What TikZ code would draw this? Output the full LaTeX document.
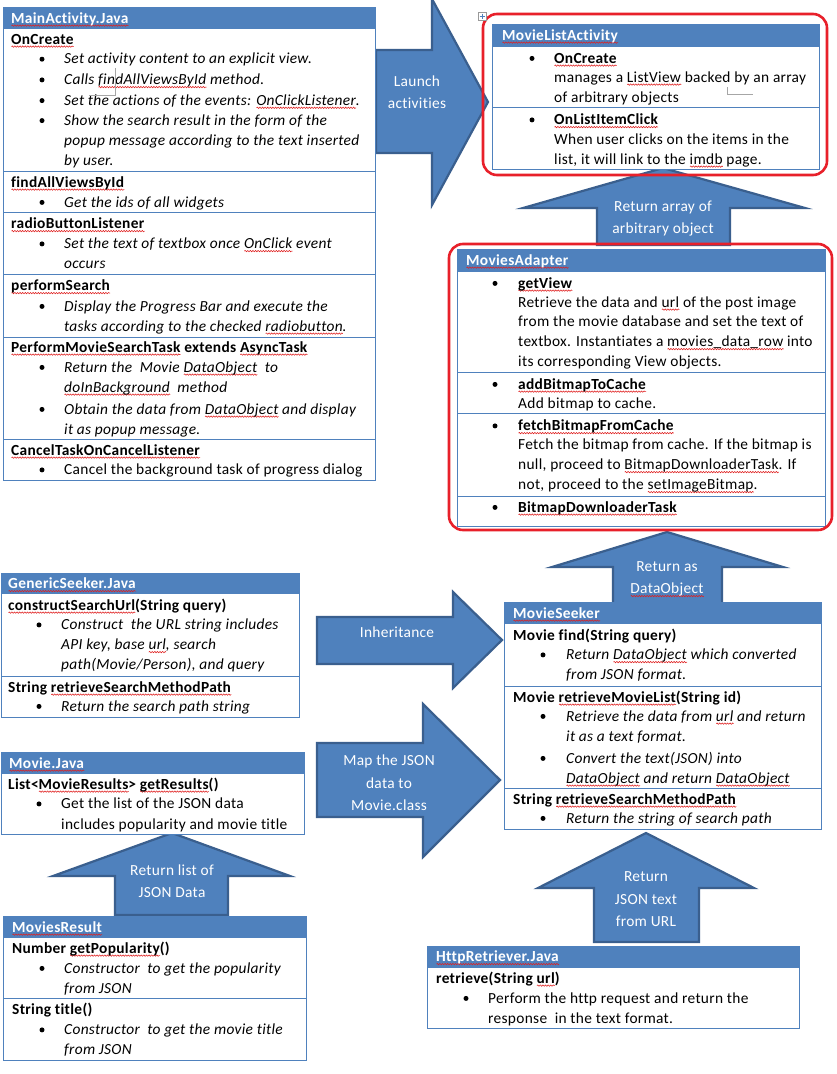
\documentclass[tikz,border=0pt]{standalone}
\usepackage{fontspec}
\setmainfont{Carlito}[LetterSpace=2,Ligatures=NoCommon]
\usepackage{xcolor}
\usetikzlibrary{decorations.pathmorphing}
\definecolor{hblue}{HTML}{4F81BD}
\definecolor{adark}{HTML}{3A5F8E}
\definecolor{redc}{HTML}{E8202A}
\definecolor{wavec}{HTML}{E02020}
\newsavebox\wbox
\newcommand\wavy[1]{\sbox\wbox{#1}\leavevmode\rlap{\smash{\tikz[x=1pt,y=1pt,baseline=0pt]\draw[wavec,line width=0.55pt,decorate,decoration={snake,amplitude=0.7pt,segment length=2.6pt}] (0pt,-2.6pt) -- (\wd\wbox,-2.6pt);}}\usebox\wbox}
\newcommand\fsz{\fontsize{15.4}{17}\selectfont}
\newcounter{tn}
\newcommand\putT[4][txt]{\stepcounter{tn}\node[#1] (n\thetn) at (#2,#3) {#4};}
\newcommand\putB[2]{\fill[black] (#1,{#2-4.6}) circle (2.5pt);}
\tikzset{
  txt/.style={anchor=base west, inner sep=0pt, font=\fsz, text=black},
  itxt/.style={txt, font=\fsz\itshape},
  btxt/.style={txt, font=\fsz\bfseries},
  htxt/.style={txt, font=\fsz\bfseries, text=white},
  atxt/.style={anchor=base, inner sep=0pt, font=\fsz, text=white},
  hdr/.style={fill=hblue, draw=hblue, line width=1pt},
  sec/.style={draw=hblue, line width=1pt, fill=white},
  barrow/.style={fill=hblue, draw=adark, line width=2.2pt, line join=miter},
  redframe/.style={draw=redc, line width=2.6pt, rounded corners=14pt},
  artf/.style={draw=black!35, line width=0.8pt},
}
\begin{document}
\begin{tikzpicture}[x=1pt,y=-1pt]
\useasboundingbox[fill=white] (0,0) rectangle (836,1074);

% ---------- block arrows ----------
\filldraw[barrow] (376,50) -- (432,50) -- (432,-1) -- (488,102) -- (432,205) -- (432,153) -- (376,153) -- cycle;
\filldraw[barrow] (663,168) -- (805,208) -- (730,208) -- (730,245) -- (597,245) -- (597,208) -- (523,208) -- cycle;
\filldraw[barrow] (667,532) -- (783,567) -- (722,567) -- (722,604) -- (613,604) -- (613,567) -- (552,567) -- cycle;
\filldraw[barrow] (317,617) -- (453,617) -- (453,592) -- (502,640) -- (453,688) -- (453,664) -- (317,664) -- cycle;
\filldraw[barrow] (317,743) -- (423,743) -- (423,704) -- (500,780) -- (423,857) -- (423,817) -- (317,817) -- cycle;
\filldraw[barrow] (172,833) -- (290,876) -- (228,876) -- (228,915) -- (115,915) -- (115,876) -- (53,876) -- cycle;
\filldraw[barrow] (646,833) -- (754,888) -- (699,888) -- (699,942) -- (594,942) -- (594,888) -- (538,888) -- cycle;

% arrow labels
\putT[atxt]{417}{86}{Launch}
\putT[atxt]{417}{108.5}{activities}
\putT[atxt]{663}{211}{Return array of}
\putT[atxt]{663}{233}{arbitrary object}
\putT[atxt]{667}{571.5}{Return as}
\putT[atxt]{667}{593.5}{\wavy{DataObject}}
\putT[atxt]{397}{637.5}{Inheritance}
\putT[atxt]{389}{765.5}{Map the JSON}
\putT[atxt]{389}{788.5}{data to}
\putT[atxt]{389}{810.5}{Movie.class}
\putT[atxt]{172}{875.5}{Return list of}
\putT[atxt]{172}{897.5}{JSON Data}
\putT[atxt]{646}{881.5}{Return}
\putT[atxt]{646}{904.5}{JSON text}
\putT[atxt]{646}{926.5}{from URL}

% ---------- MainActivity.Java ----------
\draw[hdr] (3,7) rectangle (375,28);
\draw[sec] (3,28) rectangle (375,171);
\draw[sec] (3,171) rectangle (375,212);
\draw[sec] (3,212) rectangle (375,274);
\draw[sec] (3,274) rectangle (375,337);
\draw[sec] (3,337) rectangle (375,439);
\draw[sec] (3,439) rectangle (375,480);
\putT[htxt]{11}{23}{\wavy{MainActivity.Java}}
\putT[btxt]{11}{44}{\wavy{OnCreate}}
\putB{42}{63.8}\putT[itxt]{64}{63.8}{Set activity content to an explicit view.}
\putB{42}{84.5}\putT[itxt]{64}{84.5}{Calls \wavy{findAllViewsById} method.}
\putB{42}{105.2}\putT[itxt]{64}{105.2}{Set the actions of the events: \wavy{OnClickListener}.}
\putB{42}{125.2}\putT[itxt]{64}{125.2}{Show the search result in the form of the}
\putT[itxt]{64}{145.8}{popup message according to the text inserted}
\putT[itxt]{64}{165.8}{by user.}
\draw[artf] (89,95) -- (115,95) -- (115,68);
\putT[btxt]{11}{187}{\wavy{findAllViewsById}}
\putB{42}{207}\putT[itxt]{64}{207}{Get the ids of all widgets}
\putT[btxt]{11}{228.5}{\wavy{radioButtonListener}}
\putB{42}{248.5}\putT[itxt]{64}{248.5}{Set the text of textbox once \wavy{OnClick} event}
\putT[itxt]{64}{268.5}{occurs}
\putT[btxt]{11}{290.5}{\wavy{performSearch}}
\putB{42}{311}\putT[itxt]{64}{311}{Display the Progress Bar and execute the}
\putT[itxt]{64}{331}{tasks according to the checked \wavy{radiobutton}.}
\putT[btxt]{11}{352}{\wavy{PerformMovieSearchTask} extends \wavy{AsyncTask}}
\putB{42}{372}\putT[itxt]{64}{372}{Return the\ \ Movie \wavy{DataObject}\ \ to}
\putT[itxt]{64}{392}{\wavy{doInBackground}\ \ method}
\putB{42}{414}\putT[itxt]{64}{414}{Obtain the data from \wavy{DataObject} and display}
\putT[itxt]{64}{434}{it as popup message.}
\putT[btxt]{11}{455}{\wavy{CancelTaskOnCancelListener}}
\putB{42}{474.5}\putT{64}{474.5}{Cancel the background task of progress dialog}

% ---------- MovieListActivity ----------
\draw[hdr] (492,24) rectangle (819,46);
\draw[sec] (492,46) rectangle (819,107);
\draw[sec] (492,107) rectangle (819,169);
\draw[redframe] (483,14) rectangle (827,175);
\draw[black!40, fill=white, line width=0.6pt] (478,12) rectangle (486,20);
\draw[hblue, line width=0.7pt] (479.5,16) -- (484.5,16) (482,13.5) -- (482,18.5);
\putT[htxt]{502}{40}{\wavy{MovieListActivity}}
\putB{532}{63}\putT[btxt]{554}{63}{\wavy{OnCreate}}
\putT{554}{82}{manages a \wavy{ListView} backed by an array}
\putT{554}{102}{of arbitrary objects}
\draw[artf] (727,87) -- (727,94) -- (753,94);
\putB{532}{124.5}\putT[btxt]{554}{124.5}{\wavy{OnListItemClick}}
\putT{554}{144}{When user clicks on the items in the}
\putT{554}{164}{list, it will link to the \wavy{imdb} page.}

% ---------- MoviesAdapter ----------
\draw[hdr] (457,249) rectangle (825,271);
\draw[sec] (457,271) rectangle (825,372);
\draw[sec] (457,372) rectangle (825,413);
\draw[sec] (457,413) rectangle (825,496);
\draw[sec] (457,496) rectangle (825,526);
\draw[redframe] (449,244) rectangle (832,530);
\putT[htxt]{466}{265}{\wavy{MoviesAdapter}}
\putB{495}{288}\putT[btxt]{518}{288}{\wavy{getView}}
\putT{518}{307}{Retrieve the data and \wavy{url} of the post image}
\putT{518}{326}{from the movie database and set the text of}
\putT{518}{346.5}{textbox. Instantiates a \wavy{movies\_data\_row} into}
\putT{518}{366.5}{its corresponding View objects.}
\putB{495}{389}\putT[btxt]{518}{389}{\wavy{addBitmapToCache}}
\putT{518}{408}{Add bitmap to cache.}
\putB{495}{430.5}\putT[btxt]{518}{430.5}{\wavy{fetchBitmapFromCache}}
\putT{518}{449.5}{Fetch the bitmap from cache. If the bitmap is}
\putT{518}{469.5}{null, proceed to \wavy{BitmapDownloaderTask}. If}
\putT{518}{489.5}{not, proceed to the \wavy{setImageBitmap}.}
\putB{495}{512}\putT[btxt]{518}{512}{\wavy{BitmapDownloaderTask}}

% ---------- GenericSeeker.Java ----------
\draw[hdr] (1,573) rectangle (299,593);
\draw[sec] (1,593) rectangle (299,676);
\draw[sec] (1,676) rectangle (299,717);
\putT[htxt]{8}{588.5}{\wavy{GenericSeeker.Java}}
\putT[btxt]{8}{610}{\wavy{constructSearchUrl}(String query)}
\putB{39}{629.5}\putT[itxt]{61}{629.5}{Construct\ \ the URL string includes}
\putT[itxt]{61}{649.5}{API key, base \wavy{url}, search}
\putT[itxt]{61}{669.5}{path(Movie/Person), and query}
\putT[btxt]{8}{692}{String \wavy{retrieveSearchMethodPath}}
\putB{39}{711}\putT[itxt]{61}{711}{Return the search path string}

% ---------- MovieSeeker ----------
\draw[hdr] (504,602) rectangle (821,623);
\draw[sec] (504,623) rectangle (821,686);
\draw[sec] (504,686) rectangle (821,788);
\draw[sec] (504,788) rectangle (821,829);
\putT[htxt]{513}{618}{\wavy{MovieSeeker}}
\putT[btxt]{513}{640}{Movie find(String query)}
\putB{543}{659.5}\putT[itxt]{566}{659.5}{Return \wavy{DataObject} which converted}
\putT[itxt]{566}{679.5}{from JSON format.}
\putT[btxt]{513}{702}{Movie \wavy{retrieveMovieList}(String id)}
\putB{543}{721}\putT[itxt]{566}{721}{Retrieve the data from \wavy{url} and return}
\putT[itxt]{566}{741}{it as a text format.}
\putB{543}{763}\putT[itxt]{566}{763}{Convert the text(JSON) into}
\putT[itxt]{566}{783}{\wavy{DataObject} and return \wavy{DataObject}}
\putT[btxt]{513}{804}{String \wavy{retrieveSearchMethodPath}}
\putB{543}{823}\putT[itxt]{566}{823}{Return the string of search path}

% ---------- Movie.Java ----------
\draw[hdr] (1,752) rectangle (304,773);
\draw[sec] (1,773) rectangle (304,834);
\putT[htxt]{9}{768}{\wavy{Movie.Java}}
\putT[btxt]{8}{789}{List<\wavy{MovieResults}> \wavy{getResults}()}
\putB{39}{808.5}\putT{61}{808.5}{Get the list of the JSON data}
\putT{61}{829}{includes popularity and movie title}

% ---------- MoviesResult ----------
\draw[hdr] (3,916) rectangle (306,937);
\draw[sec] (3,937) rectangle (306,998);
\draw[sec] (3,998) rectangle (306,1060);
\putT[htxt]{12}{932}{\wavy{MoviesResult}}
\putT[btxt]{12}{953}{Number \wavy{getPopularity}()}
\putB{42}{973}\putT[itxt]{64}{973}{Constructor\ \ to get the popularity}
\putT[itxt]{64}{993}{from JSON}
\putT[btxt]{12}{1014.5}{String title()}
\putB{42}{1034.5}\putT[itxt]{64}{1034.5}{Constructor\ \ to get the movie title}
\putT[itxt]{64}{1054.5}{from JSON}

% ---------- HttpRetriever.Java ----------
\draw[hdr] (427,946) rectangle (799,967);
\draw[sec] (427,967) rectangle (799,1028);
\putT[htxt]{436}{961.5}{\wavy{HttpRetriever.Java}}
\putT[btxt]{436}{983}{retrieve(String \wavy{url})}
\putB{466}{1003}\putT{488}{1003}{Perform the http request and return the}
\putT{488}{1023}{response\ \ in the text format.}
\end{tikzpicture}
\end{document}
